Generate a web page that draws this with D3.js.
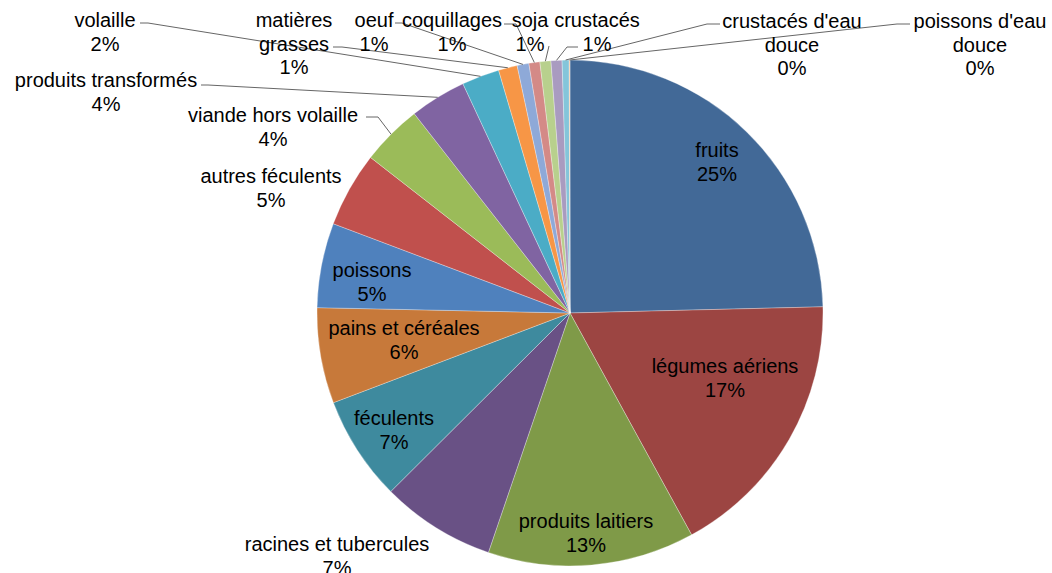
<!DOCTYPE html>
<html>
<head>
<meta charset="utf-8">
<script src="https://cdn.jsdelivr.net/npm/d3@7"></script>
<style>
  body { margin: 0; background: #fff; }
  svg text { font-family: "Liberation Sans", Arial, sans-serif; font-size: 20px; fill: #000; }
</style>
</head>
<body>
<div id="chart"></div>
<script>
// categories and their share (in percent)
const categories = ["fruits", "légumes aériens", "produits laitiers", "racines et tubercules", "féculents",
  "pains et céréales", "poissons", "autres féculents", "viande hors volaille", "produits transformés",
  "volaille", "matières grasses", "oeuf", "coquillages", "soja", "crustacés",
  "crustacés d'eau douce", "poissons d'eau douce"];
const values = [24.6, 17.4, 13.2, 7.3, 6.7, 6.1, 5.4, 4.8, 3.9, 3.6, 2.4, 1.2, 0.75, 0.7, 0.7, 0.7, 0.45, 0.05];
const colors = ["#426997", "#9c4542", "#7f9a48", "#695185", "#3e8a9e", "#c7793a",
  "#4f81bd", "#c0504d", "#9bbb59", "#8064a2", "#4bacc6", "#f79646",
  "#8ea9d8", "#d48a87", "#b8d08d", "#a99bc0", "#84c5da", "#f9b98b"];
// wrapped label lines
const wrapped = {
  "matières grasses": ["matières", "grasses"],
  "crustacés d'eau douce": ["crustacés d'eau", "douce"],
  "poissons d'eau douce": ["poissons d'eau", "douce"]
};

// label layout: x = text centre, y = first baseline; ax/ay = leader anchor, ex = elbow x
const labelPos = [
  {x: 717, y: 157}, {x: 725, y: 373}, {x: 586, y: 528}, {x: 337, y: 551, ax: null},
  {x: 394, y: 425}, {x: 404, y: 335}, {x: 372, y: 277}, {x: 271, y: 183},
  {x: 273, y: 122, ax: 366, ay: 117, ex: 378},
  {x: 106, y: 87, ax: 201, ay: 85, ex: 208},
  {x: 105, y: 27, ax: 140, ay: 23, ex: 148},
  {x: 294, y: 27, ax: 333, ay: 47, ex: 342},
  {x: 374, y: 27, ax: 395, ay: 23, ex: 402},
  {x: 452, y: 27, ax: 504, ay: 24, ex: 516},
  {x: 530, y: 27, ax: 549, ay: 46, ex: 549},
  {x: 597, y: 27, ax: 578, ay: 47, ex: 567},
  {x: 792, y: 28, ax: 720, ay: 24, ex: 707},
  {x: 980, y: 28, ax: 910, ay: 24, ex: 897}
];

const width = 1052, height = 573;
const cx = 570, cy = 313, radius = 253;
const lineH = 23.5;

const total = d3.sum(values);
const data = categories.map((c, i) => ({name: c, value: values[i], color: colors[i], pos: labelPos[i]}));

const pie = d3.pie().value(d => d.value).sort(null);
const arc = d3.arc().innerRadius(0).outerRadius(radius);
const edge = d3.arc().innerRadius(radius).outerRadius(radius);

const svg = d3.select("#chart").append("svg")
  .attr("width", width)
  .attr("height", height);

const g = svg.append("g").attr("transform", "translate(" + cx + "," + cy + ")");
const arcs = pie(data);

g.selectAll("path")
  .data(arcs)
  .enter()
  .append("path")
  .attr("d", arc)
  .attr("fill", d => d.data.color)
  .attr("stroke", "#fff")
  .attr("stroke-opacity", 0.5)
  .attr("stroke-width", 0.6);

// leader lines
arcs.forEach(d => {
  const p = d.data.pos;
  if (p.ax == null) return;
  const mid = (d.startAngle + d.endAngle) / 2;
  const px = cx + radius * Math.sin(mid), py = cy - radius * Math.cos(mid);
  svg.append("polyline")
    .attr("points", [[p.ax, p.ay], [p.ex, p.ay], [px, py]].map(q => q.join(",")).join(" "))
    .attr("fill", "none")
    .attr("stroke", "#666")
    .attr("stroke-width", 1);
});

// labels
arcs.forEach(d => {
  const p = d.data.pos;
  const lines = (wrapped[d.data.name] || [d.data.name]).concat([Math.round(d.data.value / total * 100) + "%"]);
  const t = svg.append("text").attr("text-anchor", "middle");
  lines.forEach((l, i) => {
    t.append("tspan").attr("x", p.x).attr("y", p.y + i * lineH).text(l);
  });
});
</script>
</body>
</html>
